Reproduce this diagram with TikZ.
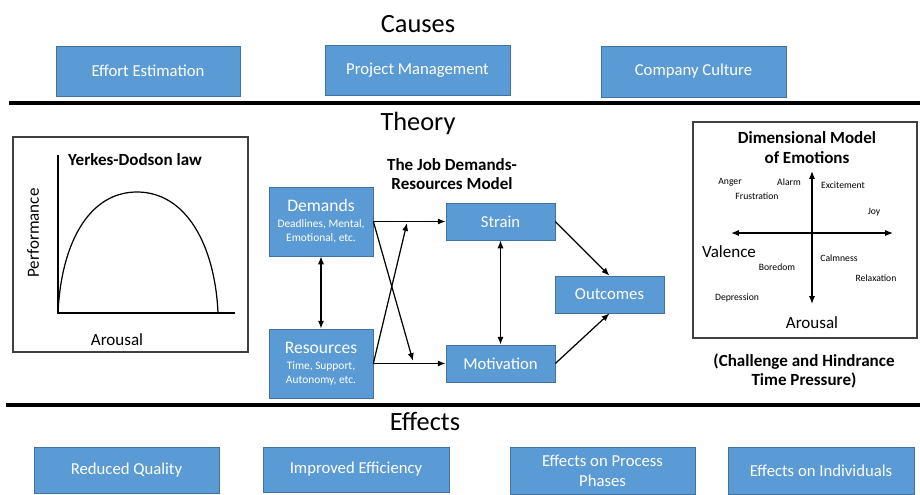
\documentclass[tikz,border=0pt]{standalone}
\usepackage{fontspec}
\setmainfont{Carlito}
\usetikzlibrary{arrows.meta}
\definecolor{boxblue}{HTML}{5B9BD5}
\definecolor{boxline}{HTML}{41719C}
\newcommand{\bigsz}{\fontsize{10}{10}\selectfont}
\newcommand{\smallsz}{\fontsize{6.5}{7.5}\selectfont}
\tikzset{
  blk/.style={draw=boxline, fill=boxblue, text=white, align=center,
    font=\fontsize{9.5}{11.5}\selectfont, inner sep=1pt},
  head/.style={font=\fontsize{15}{18}\selectfont},
  ttl/.style={font=\bfseries\fontsize{9.7}{10.8}\selectfont, align=center},
  emo/.style={font=\fontsize{5.5}{6.5}\selectfont},
  big/.style={font=\fontsize{9.7}{11.5}\selectfont},
  tip/.style={>={Latex[length=4.5pt,width=3.5pt]}},
  link/.style={tip, ->, line width=0.7pt},
  twoway/.style={tip, <->, line width=0.7pt},
  rule/.style={line width=2pt},
}
\begin{document}
\begin{tikzpicture}[x=0.02cm, y=-0.02cm]
\useasboundingbox (0,0) rectangle (920,494);

% causes
\node[head] (causes) at (418,24) {Causes};
\node[blk, minimum width=3.68cm, minimum height=1cm] (effort) at (148,71) {Effort Estimation};
\node[blk, minimum width=3.7cm, minimum height=1cm] (projmgmt) at (417.5,70) {Project Management};
\node[blk, minimum width=3.7cm, minimum height=1.02cm] (culture) at (693.5,71.5) {Company Culture};
\draw[rule] (9,103) -- (920,103);

% theory
\node[head] (theory) at (418,123) {Theory};

% Yerkes-Dodson
\draw[black!75, line width=0.6pt] (13,137) rectangle (248,352);
\node[ttl] (yerkes) at (135,160) {Yerkes-Dodson law};
\draw[line width=0.9pt] (58,155) -- (58,313) -- (235,313);
\draw[line width=0.7pt] (58,313) .. controls (61,245) and (88,192) .. (137,192)
  .. controls (186,192) and (215,245) .. (218,313);
\node[big, rotate=90] (perf) at (33,233) {Performance};
\node[big] (arousal) at (117,340) {Arousal};

% JD-R model
\node[ttl] (jdr) at (452,174) {The Job Demands-\\Resources Model};
\node[blk, minimum width=2.08cm, minimum height=1.38cm] (demands) at (321,221.5)
  {\bigsz Demands\\[-2.4pt]\smallsz Deadlines, Mental,\\[-3.4pt]\smallsz Emotional, etc.};
\node[blk, minimum width=2.08cm, minimum height=1.38cm] (resources) at (321,363.5)
  {\bigsz Resources\\[-2.4pt]\smallsz Time, Support,\\[-3.4pt]\smallsz Autonomy, etc.};
\node[blk, minimum width=2.18cm, minimum height=0.74cm] (strain) at (500.5,221.5) {Strain};
\node[blk, minimum width=2.18cm, minimum height=0.74cm] (motivation) at (500.5,363.5) {Motivation};
\node[blk, minimum width=2.18cm, minimum height=0.74cm] (outcomes) at (609.5,294.5) {Outcomes};
\coordinate (dcross) at (413,361);
\coordinate (rcross) at (407,223);

\draw[twoway] (demands) -- (resources);
\draw[twoway] (strain) -- (motivation);
\draw[link] (demands.east) -- (strain.west);
\draw[link] (demands.east) -- (dcross);
\draw[link] (resources.east) -- (motivation.west);
\draw[link] (resources.east) -- (rcross);
\draw[link] (strain.east) -- (outcomes.north);
\draw[link] (motivation.east) -- (outcomes.south);

% dimensional model of emotions
\draw[black!75, line width=0.6pt] (693,122) rectangle (917,338);
\node[ttl, font=\bfseries\fontsize{9.7}{11.3}\selectfont] (dimtitle) at (807,148) {Dimensional Model\\of Emotions};
\draw[twoway] (731,233) -- (893,233);
\draw[twoway] (812,171) -- (812,304);
\node[emo] (anger) at (730,182) {Anger};
\node[emo] (alarm) at (789,182) {Alarm};
\node[emo] (frust) at (757,196) {Frustration};
\node[emo] (excite) at (843,185) {Excitement};
\node[emo] (joy) at (874,212) {Joy};
\node[big] (valence) at (729,252) {Valence};
\node[emo] (boredom) at (777,267) {Boredom};
\node[emo] (calm) at (839,258) {Calmness};
\node[emo] (relax) at (876,278) {Relaxation};
\node[emo] (depress) at (737,298) {Depression};
\node[big] (arousaltwo) at (812,323) {Arousal};
\node[ttl, font=\bfseries\fontsize{9.7}{11}\selectfont] (hindrance) at (804,371) {(Challenge and Hindrance\\Time Pressure)};

% effects
\draw[rule] (6,405) -- (920,405);
\node[head] (effects) at (425,421) {Effects};
\node[blk, minimum width=3.7cm, minimum height=0.92cm] (quality) at (126.5,470) {Reduced Quality};
\node[blk, minimum width=3.72cm, minimum height=0.9cm] (efficiency) at (356,469.5) {Improved Efficiency};
\node[blk, minimum width=3.7cm, minimum height=0.94cm] (phases) at (602.5,470.5) {Effects on Process\\Phases};
\node[blk, minimum width=3.72cm, minimum height=0.94cm] (individuals) at (821,470.5) {Effects on Individuals};
\end{tikzpicture}
\end{document}
